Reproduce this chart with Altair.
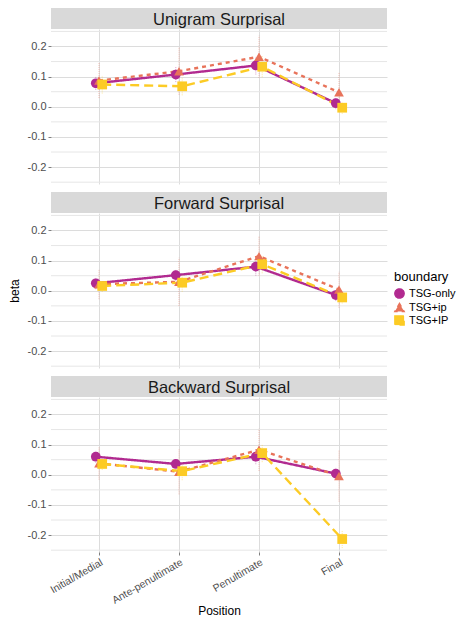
import json
import altair as alt
import pandas as pd

positions = ["Initial/Medial", "Ante-penultimate", "Penultimate", "Final"]
panels = ["Unigram Surprisal", "Forward Surprisal", "Backward Surprisal"]
boundaries = ["TSG-only", "TSG+ip", "TSG+IP"]
colors = ["#B12A90", "#E8735A", "#FCCB25"]

# beta estimates, per panel and boundary (order of positions)
uni_tsg_only = [0.078, 0.107, 0.137, 0.012]
uni_tsg_ip = [0.087, 0.118, 0.166, 0.048]
uni_tsg_IP = [0.074, 0.068, 0.133, -0.003]
fwd_tsg_only = [0.025, 0.052, 0.080, -0.014]
fwd_tsg_ip = [0.022, 0.030, 0.115, 0.004]
fwd_tsg_IP = [0.016, 0.027, 0.088, -0.022]
bwd_tsg_only = [0.060, 0.036, 0.060, 0.004]
bwd_tsg_ip = [0.038, 0.010, 0.083, -0.004]
bwd_tsg_IP = [0.036, 0.012, 0.072, -0.213]

# half widths of the error bars
uni_err_only = [0.022, 0.025, 0.030, 0.020]
uni_err_ip = [0.058, 0.078, 0.070, 0.065]
uni_err_IP = [0.030, 0.030, 0.035, 0.020]
fwd_err_only = [0.020, 0.020, 0.030, 0.020]
fwd_err_ip = [0.050, 0.080, 0.065, 0.060]
fwd_err_IP = [0.020, 0.030, 0.030, 0.020]
bwd_err_only = [0.020, 0.020, 0.025, 0.020]
bwd_err_ip = [0.054, 0.075, 0.070, 0.085]
bwd_err_IP = [0.020, 0.030, 0.030, 0.030]

y_major = [-0.2, -0.1, 0.0, 0.1, 0.2]
y_minor = [-0.25, -0.15, -0.05, 0.05, 0.15, 0.25]

betas = {
    "Unigram Surprisal": [uni_tsg_only, uni_tsg_ip, uni_tsg_IP],
    "Forward Surprisal": [fwd_tsg_only, fwd_tsg_ip, fwd_tsg_IP],
    "Backward Surprisal": [bwd_tsg_only, bwd_tsg_ip, bwd_tsg_IP],
}
errs = {
    "Unigram Surprisal": [uni_err_only, uni_err_ip, uni_err_IP],
    "Forward Surprisal": [fwd_err_only, fwd_err_ip, fwd_err_IP],
    "Backward Surprisal": [bwd_err_only, bwd_err_ip, bwd_err_IP],
}
dodge = [-0.04, 0.0, 0.04]

rows = []
for panel in panels:
    for bi, b in enumerate(boundaries):
        for k, pos in enumerate(positions):
            v = betas[panel][bi][k]
            e = errs[panel][bi][k]
            rows.append(dict(panel=panel, boundary=b, position=pos,
                             x=k + 1 + dodge[bi], beta=v, lo=v - e, hi=v + e))
df = pd.DataFrame(rows)
minor_df = pd.DataFrame({"g": y_minor})

W = 336
PH = 155
SH = 21
GAP = 8
FONT = "Liberation Sans"

xscale = alt.Scale(domain=[0.4, 4.6], nice=False, zero=False)
yscale = alt.Scale(domain=[-0.256, 0.258], nice=False, zero=False)
color_scale = alt.Scale(domain=boundaries, range=colors)
shape_scale = alt.Scale(domain=boundaries, range=["circle", "triangle-up", "square"])
dash_scale = alt.Scale(domain=boundaries, range=[[1, 0], [4, 4], [9, 5]])

label_expr = json.dumps(positions) + "[round(datum.value) - 1]"
ylabel_expr = "datum.value < 0 ? '-' + format(-datum.value, '.1f') : format(datum.value, '.1f')"

legend = alt.Legend(title="boundary")


def panel_chart(name, bottom, ytitle_visible):
    d = df[df.panel == name]
    if bottom:
        xaxis = alt.Axis(values=[1, 2, 3, 4], grid=True, gridColor="#DCDCDC", domain=False,
                         labelExpr=label_expr, labelAngle=330, labelAlign="right",
                         labelBaseline="top", labelFontSize=10.5, labelColor="#4D4D4D",
                         labelFont=FONT, labelPadding=2, ticks=True, tickSize=3,
                         tickColor="#7F7F7F", title="Position", titleFont=FONT,
                         titleFontSize=12, titleFontWeight="normal", titleColor="#000000",
                         titlePadding=0)
    else:
        xaxis = alt.Axis(values=[1, 2, 3, 4], grid=True, gridColor="#DCDCDC", domain=False,
                         labels=False, ticks=False, title=None)
    yaxis = alt.Axis(values=y_major, grid=True, gridColor="#DCDCDC", domain=False,
                     labelExpr=ylabel_expr, labelFontSize=11, labelColor="#4D4D4D",
                     labelFont=FONT, labelPadding=2, tickSize=3, tickColor="#7F7F7F",
                     title="beta", titleFont=FONT, titleFontSize=12,
                     titleFontWeight="normal", titleColor="#000000", titlePadding=6,
                     titleOpacity=1 if ytitle_visible else 0)
    xenc = alt.X("x:Q", scale=xscale, axis=xaxis)
    cenc = alt.Color("boundary:N", scale=color_scale, legend=legend)
    minor = alt.Chart(minor_df).mark_rule(color="#E6E6E6", strokeWidth=1).encode(
        y=alt.Y("g:Q", scale=yscale, axis=yaxis))
    err = alt.Chart(d).mark_rule(strokeWidth=1, opacity=0.45, strokeDash=[1, 1]).encode(
        x=xenc,
        y=alt.Y("lo:Q", scale=yscale, axis=yaxis),
        y2="hi:Q",
        color=cenc,
    )
    line = alt.Chart(d).mark_line(strokeWidth=2.4).encode(
        x=xenc,
        y=alt.Y("beta:Q", scale=yscale, axis=yaxis),
        color=cenc,
        strokeDash=alt.StrokeDash("boundary:N", scale=dash_scale, legend=None),
        order=alt.Order("x:Q"),
    )
    pts = alt.Chart(d).mark_point(filled=True, opacity=1, size=95).encode(
        x=xenc,
        y=alt.Y("beta:Q", scale=yscale, axis=yaxis),
        color=cenc,
        shape=alt.Shape("boundary:N", scale=shape_scale, legend=legend),
    )
    return alt.layer(minor, err, line, pts).properties(width=W, height=PH)


def strip_chart(name, top_gap):
    sd = pd.DataFrame({"label": [name]})
    rect = alt.Chart(sd).mark_rect(color="#D9D9D9").encode(
        x=alt.value(0), x2=alt.value(W), y=alt.value(top_gap), y2=alt.value(top_gap + SH))
    txt = alt.Chart(sd).mark_text(fontSize=16.5, color="#1A1A1A", font=FONT).encode(
        text="label:N", x=alt.value(W / 2), y=alt.value(top_gap + SH / 2 + 1))
    return alt.layer(rect, txt).properties(width=W, height=top_gap + SH)


chart = alt.vconcat(
    strip_chart(panels[0], 0),
    panel_chart(panels[0], False, False),
    strip_chart(panels[1], GAP),
    panel_chart(panels[1], False, True),
    strip_chart(panels[2], GAP),
    panel_chart(panels[2], True, False),
    spacing=0,
).properties(padding=0).configure_view(stroke=None).configure_legend(
    orient="none", legendX=343, legendY=263, padding=0, titleFont=FONT, titleFontSize=13,
    titleFontWeight="normal", titleColor="#000000", labelFont=FONT, labelFontSize=11,
    labelColor="#000000", symbolSize=85, symbolOpacity=1, rowPadding=-4, titlePadding=4,
    labelOffset=4,
).resolve_scale(color="shared", shape="shared")

chart.save("out.html", embed_options={"renderer": "svg", "actions": False})
